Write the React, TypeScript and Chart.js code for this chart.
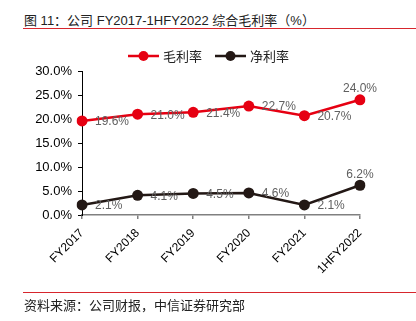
import React, { useEffect, useRef } from "react";
import { Chart, registerables } from "chart.js";

Chart.register(...registerables);

const categories = ["FY2017", "FY2018", "FY2019", "FY2020", "FY2021", "1HFY2022"];
const grossMargin = [19.6, 21.0, 21.4, 22.7, 20.7, 24.0];
const netMargin = [2.1, 4.1, 4.5, 4.6, 2.1, 6.2];
const seriesNames = ["毛利率", "净利率"];
const yTicks = [0, 5, 10, 15, 20, 25, 30];
const titleText = "图 11：公司 FY2017-1HFY2022 综合毛利率（%）";
const sourceText = "资料来源：公司财报，中信证券研究部";

const RED = "#e60012";
const DARK = "#231815";
const LATIN = "'Liberation Sans', Arial, sans-serif";
const CJK = "'Liberation Sans', 'Noto Sans CJK SC', sans-serif";

const labelPlugin = {
  id: "valueLabels",
  afterDatasetsDraw(chart: any) {
    const ctx = chart.ctx;
    ctx.save();
    ctx.font = `12px ${LATIN}`;
    ctx.fillStyle = "#606060";
    chart.data.datasets.forEach((ds: any, di: number) => {
      const meta = chart.getDatasetMeta(di);
      meta.data.forEach((pt: any, i: number) => {
        const text = Number(ds.data[i]).toFixed(1) + "%";
        if (i === meta.data.length - 1) {
          ctx.textAlign = "center";
          ctx.textBaseline = "middle";
          ctx.fillText(text, pt.x, pt.y - 11);
        } else {
          ctx.textAlign = "left";
          ctx.textBaseline = "middle";
          ctx.fillText(text, pt.x + 13, pt.y + 1);
        }
      });
    });
    ctx.restore();
  },
};

const legendPlugin = {
  id: "lineLegend",
  afterDraw(chart: any) {
    const ctx = chart.ctx;
    ctx.save();
    ctx.font = `13px ${CJK}`;
    let x = 128;
    const y = 56;
    chart.data.datasets.forEach((ds: any) => {
      ctx.strokeStyle = ds.borderColor;
      ctx.lineWidth = 2.5;
      ctx.beginPath();
      ctx.moveTo(x, y);
      ctx.lineTo(x + 31, y);
      ctx.stroke();
      ctx.fillStyle = ds.borderColor;
      ctx.beginPath();
      ctx.arc(x + 15.5, y, 5, 0, Math.PI * 2);
      ctx.fill();
      ctx.fillStyle = "#222";
      ctx.textAlign = "left";
      ctx.textBaseline = "middle";
      ctx.fillText(ds.label, x + 35, y + 1);
      x += 35 + ctx.measureText(ds.label).width + 13;
    });
    ctx.restore();
  },
};

export default function App() {
  const ref = useRef<HTMLCanvasElement>(null);
  useEffect(() => {
    document.body.style.margin = "0";
    const chart = new Chart(ref.current!, {
      type: "line",
      data: {
        labels: categories,
        datasets: [
          {
            label: seriesNames[0],
            data: grossMargin,
            borderColor: RED,
            backgroundColor: RED,
            borderWidth: 2.5,
            pointRadius: 5.5,
            pointHoverRadius: 5.5,
            pointBackgroundColor: RED,
            pointBorderWidth: 0,
            tension: 0,
          },
          {
            label: seriesNames[1],
            data: netMargin,
            borderColor: DARK,
            backgroundColor: DARK,
            borderWidth: 2.5,
            pointRadius: 5.5,
            pointHoverRadius: 5.5,
            pointBackgroundColor: DARK,
            pointBorderWidth: 0,
            tension: 0,
          },
        ],
      },
      options: {
        animation: false,
        responsive: false,
        devicePixelRatio: 1,
        layout: { padding: { top: 71, right: 56, left: 0, bottom: 0 } },
        plugins: {
          legend: { display: false },
          title: { display: false },
          tooltip: { enabled: false },
        },
        scales: {
          x: {
            offset: false,
            afterFit: (s: any) => {
              s.height = 106;
            },
            grid: {
              drawOnChartArea: false,
              drawTicks: true,
              tickLength: 4,
              color: "#808080",
              lineWidth: 1.5,
            },
            border: { color: "#808080", width: 1.5 },
            ticks: {
              minRotation: 45,
              maxRotation: 45,
              autoSkip: false,
              padding: 7,
              color: "#000",
              font: { family: LATIN, size: 12 },
            },
          },
          y: {
            min: 0,
            max: 30,
            afterFit: (s: any) => {
              s.width = 82;
            },
            afterBuildTicks: (s: any) => {
              s.ticks = yTicks.map((v) => ({ value: v }));
            },
            grid: {
              drawOnChartArea: false,
              drawTicks: true,
              tickLength: 4,
              color: "#000",
            },
            border: { color: "#000", width: 1 },
            ticks: {
              padding: 6,
              color: "#000",
              font: { family: LATIN, size: 13 },
              callback: (v: any) => Number(v).toFixed(1) + "%",
            },
          },
        },
      },
      plugins: [labelPlugin, legendPlugin],
    });
    return () => chart.destroy();
  }, []);

  return (
    <div style={{ position: "relative", width: 416, height: 321, background: "#fff", overflow: "hidden" }}>
      <div
        style={{
          position: "absolute",
          left: 24,
          top: 12,
          fontSize: 13,
          lineHeight: "18px",
          fontFamily: CJK,
          color: "#222",
          whiteSpace: "nowrap",
        }}
      >
        {titleText}
      </div>
      <div style={{ position: "absolute", left: 23, right: 0, top: 28, height: 1, background: "#d7262d" }} />
      <canvas ref={ref} width={416} height={321} style={{ position: "absolute", left: 0, top: 0 }} />
      <div style={{ position: "absolute", left: 23, right: 0, top: 292, height: 1, background: "#d7262d" }} />
      <div
        style={{
          position: "absolute",
          left: 24,
          top: 297,
          fontSize: 13,
          lineHeight: "18px",
          fontFamily: CJK,
          color: "#222",
          whiteSpace: "nowrap",
        }}
      >
        {sourceText}
      </div>
    </div>
  );
}
